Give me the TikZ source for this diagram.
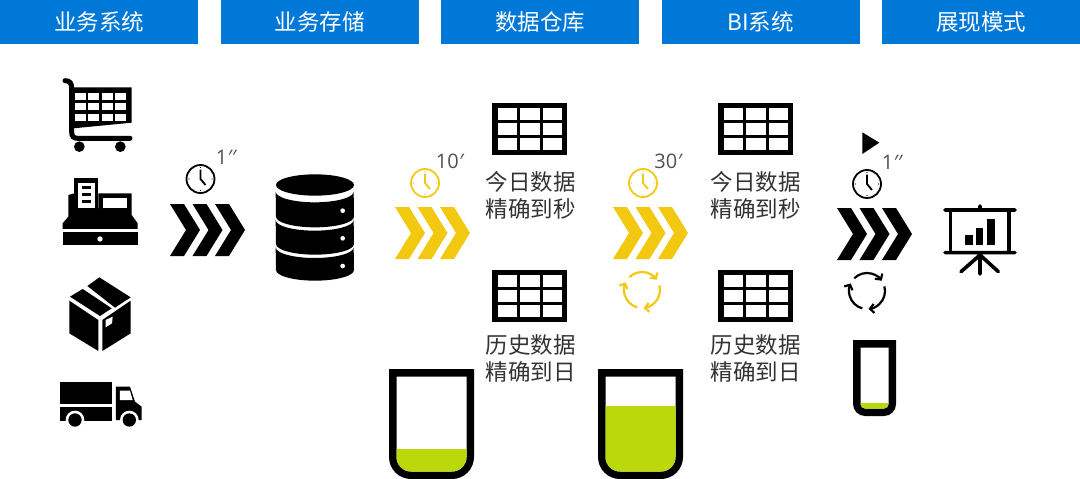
\documentclass[tikz,border=0pt]{standalone}
\usepackage{fontspec}
\setmainfont{Noto Sans CJK SC}
\newfontfamily\numfont{Open Sans}
\usetikzlibrary{positioning,arrows.meta}
\definecolor{headblue}{HTML}{0078D7}
\definecolor{gold}{HTML}{F2C811}
\definecolor{lime}{HTML}{BAD80A}
\definecolor{txtgray}{HTML}{333333}
\definecolor{numgray}{HTML}{505050}
\begin{document}
\begin{tikzpicture}[
		x=1pt,y=1pt
		,head/.style={fill=headblue, text=white, minimum width=198pt, minimum height=44pt, inner sep=0pt, outer sep=0pt, font=\fontsize{22.5}{26}\selectfont}
		,txt/.style={text=txtgray, align=center, inner sep=0pt, font=\fontsize{22.5}{26.5}\selectfont}
		,num/.style={text=numgray, inner sep=0pt, font=\numfont\fontsize{20}{24}\selectfont}
		,pics/chevrons/.style={code={
			\foreach \i in {0,1,2}
				\fill [#1, xshift=22.5*\i] (0,26) -- (14,26) -- (30,0) -- (14,-26) -- (0,-26) -- (16,0) -- cycle;
		}}
		,pics/clock/.style={code={
			\draw [#1, line width=1.8pt] (0,0) circle (14);
			\draw [#1, line width=1.8pt] (0,9.5) -- (0,0) -- (5,-6);
			\foreach \a in {0,90,180,270}
				\fill [#1] (\a:11.5) circle (.6);
		}}
		,pics/cycle/.style={code={
			\foreach \a in {135,15,-105}
				\draw [#1, line width=2.2pt, -{Straight Barb[length=4pt,width=9pt]}] (\a:18) arc (\a:\a-100:18);
		}}
		,pics/grid/.style={code={
			\fill (0,0) rectangle (75,-52);
			\foreach \i in {0,1,2}
				\foreach \j in {0,1,2}
					\fill [white] (5.5+22.5*\i,-5-15.2*\j) rectangle ++(19.5,-11.8);
		}}
		,pics/beaker/.style n args={4}{code={
			\fill (0,0) -- (0,-#2+#3) arc (180:270:#3) -- (#1-#3,-#2) arc (270:360:#3) -- (#1,0) -- cycle;
			\begin{scope}
				\clip (7.5,-7.5) -- (7.5,-#2+#3) arc (180:270:#3-7.5) -- (#1-#3,-#2+7.5) arc (270:360:#3-7.5) -- (#1-7.5,-7.5) -- cycle;
				\fill [white] (0,0) rectangle (#1,-#2);
				\fill [lime] (0,-#4) rectangle (#1,-#2);
			\end{scope}
		}}
	]
		\useasboundingbox (0,0) rectangle (1080,-479);

		% header row
		\node [head] (H1) at (99,-22) {业务系统};
		\node [head, right=22.5pt of H1] (H2) {业务存储};
		\node [head, right=22.5pt of H2] (H3) {数据仓库};
		\node [head, right=22.5pt of H3] (H4) {BI系统};
		\node [head, right=22.5pt of H4] (H5) {展现模式};

		% cart
		\begin{scope}[shift={(40,-60)},scale=1/3]
			\fill (95,-82) -- (275,-82) -- (275,-188) -- (100,-205) -- cycle;
			\foreach \cx in {105,145,186,226}
				\foreach \cy in {98,130,162}
					\fill [white] (\cx,-\cy) rectangle ++(32,-21);
			\draw [line width=5pt, line cap=round] (75,-62) .. controls (90,-62) and (95,-70) .. (95,-85) -- (95,-215) .. controls (95,-230) and (100,-235) .. (115,-235) -- (270,-235);
			\fill (118,-260) circle (16);
			\fill (241,-260) circle (16);
		\end{scope}

		% register
		\begin{scope}[shift={(40,-60)},scale=1/3]
			\fill (103,-355) rectangle (175,-450);
			\fill [white] (113,-368) rectangle (165,-445);
			\foreach \cy in {378,399,420}
				\fill (125,-\cy) rectangle ++(28,-10);
			\fill (175,-400) -- (275,-400) -- (275,-465) -- (293,-490) -- (293,-507) -- (68,-507) -- (68,-490) -- (85,-470) -- (85,-405) -- (103,-400) -- (113,-445) -- (175,-445) -- cycle;
			\fill [white] (190,-415) rectangle (260,-445);
			\fill (68,-517) rectangle (293,-555);
			\fill [white] (180,-537) circle (8);
		\end{scope}

		% package
		\begin{scope}[shift={(40,-270)},scale=1/3]
			\fill (178,-22) -- (272,-82) -- (225,-113) -- (142,-48) -- cycle;
			\fill (128,-57) -- (215,-115) -- (180,-138) -- (90,-80) -- cycle;
			\fill (88,-92) -- (175,-150) -- (175,-243) -- (88,-190) -- cycle;
			\fill (187,-150) -- (272,-92) -- (272,-190) -- (187,-243) -- cycle;
			\fill [white] (197,-150) -- (218,-140) -- (216,-160) -- (197,-172) -- cycle;
		\end{scope}

		% truck
		\begin{scope}[shift={(40,-270)},scale=1/3]
			\fill (60,-335) rectangle (217,-402);
			\fill (60,-412) rectangle (217,-452);
			\fill (228,-350) -- (270,-350) -- (285,-395) -- (305,-410) -- (305,-450) -- (228,-450) -- cycle;
			\fill [white] (240,-362) -- (270,-362) -- (278,-390) -- (240,-390) -- cycle;
			\foreach \cx in {105,268} {
				\fill [white] (\cx,-450) circle (28);
				\fill (\cx,-450) circle (20);
			}
		\end{scope}

		% database
		\begin{scope}[shift={(260,-160)},scale=1/3]
			\fill (165,-75) ellipse (117 and 32);
			\foreach \t/\b/\d in {95/170/152,180/252/235,262/330/318} {
				\fill (47,-\t) arc (180:360:117 and 32) -- (282,-\b) arc (0:-180:117 and 32) -- cycle;
				\fill [white] (248,-\d) circle (7);
			}
		\end{scope}

		% screen
		\begin{scope}[shift={(830,-120)},scale=1/3]
			\fill (97,-37) -- (148,-68) -- (97,-102) -- cycle;
			\draw [line width=3.6pt, line cap=round] (345,-270) -- (555,-270) (345,-398) -- (555,-398) (450,-258) -- (450,-270) (450,-398) -- (450,-462) (450,-405) -- (393,-455) (450,-405) -- (505,-455);
			\draw [line width=3.6pt] (362,-270) -- (362,-398) (537,-270) -- (537,-398);
			\fill (405,-345) rectangle (428,-375);
			\fill (438,-325) rectangle (460,-375);
			\fill (472,-298) rectangle (495,-375);
		\end{scope}

		% flows
		\pic (C1) at (200.5,-179) {clock=black};
		\pic (A1) at (170,-230) {chevrons=black};
		\node [num] (T1) at (226,-157) {1{\itshape ′′}};

		\pic (C2) at (425,-183) {clock=gold};
		\pic (A2) at (395,-233) {chevrons=gold};
		\node [num] (T2) at (449.5,-161) {10{\itshape ′}};

		\pic (C3) at (643,-183) {clock=gold};
		\pic (A3) at (613,-233) {chevrons=gold};
		\pic (R3) at (642,-290) {cycle=gold};
		\node [num] (T3) at (668,-161) {30{\itshape ′}};

		\pic (C4) at (867,-184) {clock=black};
		\pic (A4) at (837,-234) {chevrons=black};
		\pic (R4) at (867,-291) {cycle=black};
		\node [num] (T4) at (892,-162) {1{\itshape ′′}};

		% tables
		\pic (G1) at (492,-103) {grid};
		\pic (G2) at (492,-270) {grid};
		\pic (G3) at (718,-103) {grid};
		\pic (G4) at (718,-270) {grid};
		\node [txt] (D1) at (530.5,-195.5) {今日数据\\精确到秒};
		\node [txt] (D2) at (530.5,-358.5) {历史数据\\精确到日};
		\node [txt] (D3) at (755.5,-195.5) {今日数据\\精确到秒};
		\node [txt] (D4) at (755.5,-358.5) {历史数据\\精确到日};

		% levels
		\pic (B1) at (389,-369) {beaker={85}{110}{22}{80}};
		\pic (B2) at (598,-369) {beaker={85}{110}{22}{37}};
		\pic (B3) at (853,-340) {beaker={43}{76}{12}{63}};
	\end{tikzpicture}
\end{document}
